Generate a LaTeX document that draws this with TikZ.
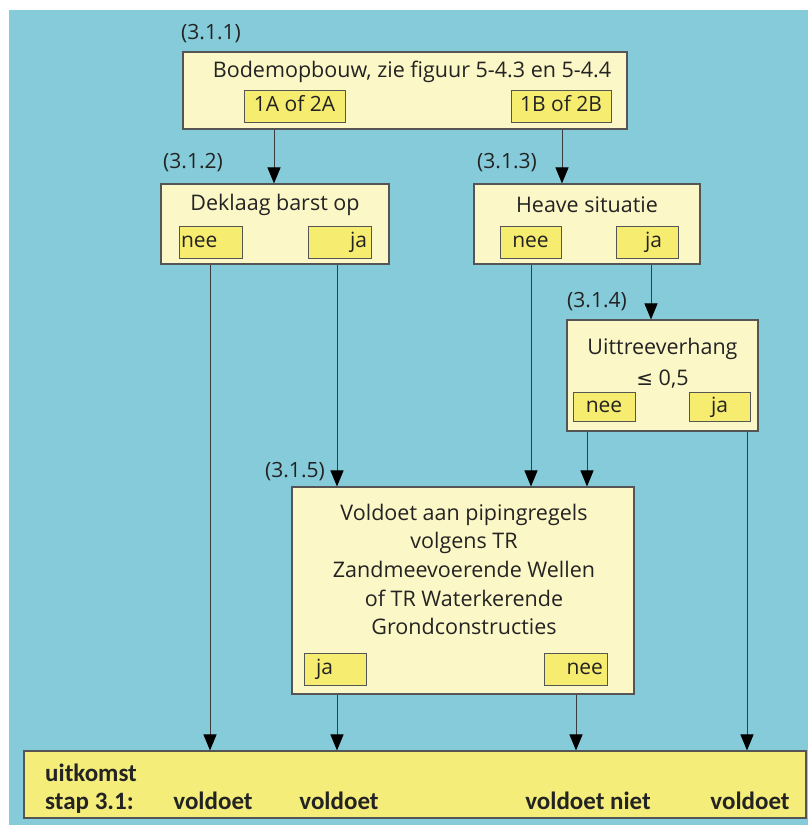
\documentclass[tikz,border=0pt]{standalone}
\usepackage{fontspec}
\setmainfont{Open Sans}[Ligatures=NoCommon]
\newfontfamily\bottomfont{Carlito}
\newfontfamily\symfont{DejaVu Sans}
\usetikzlibrary{arrows.meta}
\definecolor{bgblue}{RGB}{134,203,218}
\definecolor{paleyel}{RGB}{252,247,198}
\definecolor{yel}{RGB}{246,236,112}
\definecolor{botyel}{RGB}{244,237,122}
\definecolor{edgecol}{RGB}{85,85,85}
\definecolor{txtcol}{RGB}{35,35,35}
\begin{document}
\begin{tikzpicture}[x=1pt,y=-1pt,
  outerbox/.style={draw=edgecol, line width=1.1pt, fill=paleyel, inner sep=0pt},
  innerbox/.style={draw=edgecol, line width=0.9pt, fill=yel, inner xsep=4pt, inner ysep=0pt,
     minimum height=32pt, text height=15pt, text depth=5pt, text=txtcol,
     font=\fontsize{21}{24}\selectfont},
  maintxt/.style={font=\fontsize{21.5}{28.7}\selectfont, align=center, inner sep=0pt, text=txtcol},
  lab/.style={font=\fontsize{21}{24}\selectfont, inner sep=0pt, text=txtcol},
  bottxt/.style={font=\bottomfont\bfseries\fontsize{25}{28}\selectfont, inner sep=0pt, text=txtcol, anchor=base},
  conn/.style={draw=edgecol!70!black, line width=1pt},
  arr/.style={conn, -{Triangle[width=13pt,length=16pt,color=black]}}
]
\useasboundingbox (0,0) rectangle (808,825);
\fill[white] (0,0) rectangle (808,825);
\fill[bgblue] (9,10) rectangle (808,825);

% (3.1.1)
\node[outerbox, minimum width=444pt, minimum height=77pt] (b1) at (405,90.5) {};
\node[maintxt] (t1) at (412,72) {Bodemopbouw, zie figuur 5-4.3 en 5-4.4};
\node[innerbox, minimum width=101pt] (i1a) at (294.5,106.5) {1A of 2A};
\node[innerbox, minimum width=100pt] (i1b) at (561,106.5) {1B of 2B};
\node[lab, anchor=west] (l1) at (181,34) {(3.1.1)};

% (3.1.2)
\node[outerbox, minimum width=228pt, minimum height=80pt] (b2) at (275,224) {};
\node[maintxt] (t2) at (275,205) {Deklaag barst op};
\node[innerbox, text width=59pt, align=left, inner xsep=2pt] (nee2) at (210.5,242) {nee};
\node[innerbox, text width=55pt, align=right] (ja2) at (339.5,242) {ja};
\node[lab, anchor=west] (l2) at (163,163) {(3.1.2)};

% (3.1.3)
\node[outerbox, minimum width=226pt, minimum height=80pt] (b3) at (587,224) {};
\node[maintxt] (t3) at (587,205) {Heave situatie};
\node[innerbox, minimum width=61pt] (nee3) at (530.5,242) {nee};
\node[innerbox, text width=54pt, align=right, inner xsep=4pt] (ja3) at (647,242) {ja\hspace*{12pt}};
\node[lab, anchor=west] (l3) at (477,163) {(3.1.3)};

% (3.1.4)
\node[outerbox, minimum width=191pt, minimum height=111pt] (b4) at (662.5,375.5) {};
\node[maintxt, font=\fontsize{21.5}{31}\selectfont] (t4) at (662.5,363) {Uittreeverhang\\{\symfont\fontsize{20}{24}\selectfont ≤} 0,5};
\node[innerbox, minimum width=62pt, minimum height=29pt] (nee4) at (604,407) {nee};
\node[innerbox, minimum width=61pt, minimum height=29pt] (ja4) at (719.5,407) {ja};
\node[lab, anchor=west] (l4) at (567,302) {(3.1.4)};

% (3.1.5)
\node[outerbox, minimum width=342pt, minimum height=207pt] (b5) at (463,590.5) {};
\node[maintxt] (t5) at (464,569.5) {Voldoet aan pipingregels\\volgens TR\\Zandmeevoerende Wellen\\of TR Waterkerende\\Grondconstructies};
\node[innerbox, text width=54pt, align=left, inner xsep=4pt] (ja5) at (335,669) {\hspace*{8pt}ja};
\node[innerbox, text width=55pt, align=right] (nee5) at (575.5,669) {nee};
\node[lab, anchor=east] (l5) at (325,472) {(3.1.5)};

% bottom outcome bar
\node[draw=edgecol, line width=1.1pt, fill=botyel, minimum width=782pt, minimum height=67pt, inner sep=0pt] (bot) at (415,784.5) {};
\node[bottxt, anchor=base west] (u1) at (45,781) {uitkomst};
\node[bottxt, anchor=base west] (u2) at (45,809) {stap 3.1:};
\node[bottxt] (v1) at (213,809) {voldoet};
\node[bottxt] (v2) at (339,809) {voldoet};
\node[bottxt] (v3) at (588,809) {voldoet niet};
\node[bottxt] (v4) at (750,809) {voldoet};

% x positions of connectors
\coordinate (xa) at (274,0);
\coordinate (xb) at (562,0);
\coordinate (xc) at (210,0);
\coordinate (xd) at (337,0);
\coordinate (xe) at (531,0);
\coordinate (xf) at (651,0);
\coordinate (xg) at (587,0);
\coordinate (xh) at (747,0);
\coordinate (xi) at (576,0);

\draw[arr] (xa |- b1.south) -- (xa |- b2.north);
\draw[arr] (xb |- b1.south) -- (xb |- b3.north);
\draw[arr] (xc |- b2.south) -- (xc |- bot.north);
\draw[arr] (xd |- b2.south) -- (xd |- b5.north);
\draw[arr] (xe |- b3.south) -- (xe |- b5.north);
\draw[arr] (xf |- b3.south) -- (xf |- b4.north);
\draw[arr] (xg |- b4.south) -- (xg |- b5.north);
\draw[arr] (xh |- b4.south) -- (xh |- bot.north);
\draw[arr] (xd |- b5.south) -- (xd |- bot.north);
\draw[arr] (xi |- b5.south) -- (xi |- bot.north);
\end{tikzpicture}
\end{document}
